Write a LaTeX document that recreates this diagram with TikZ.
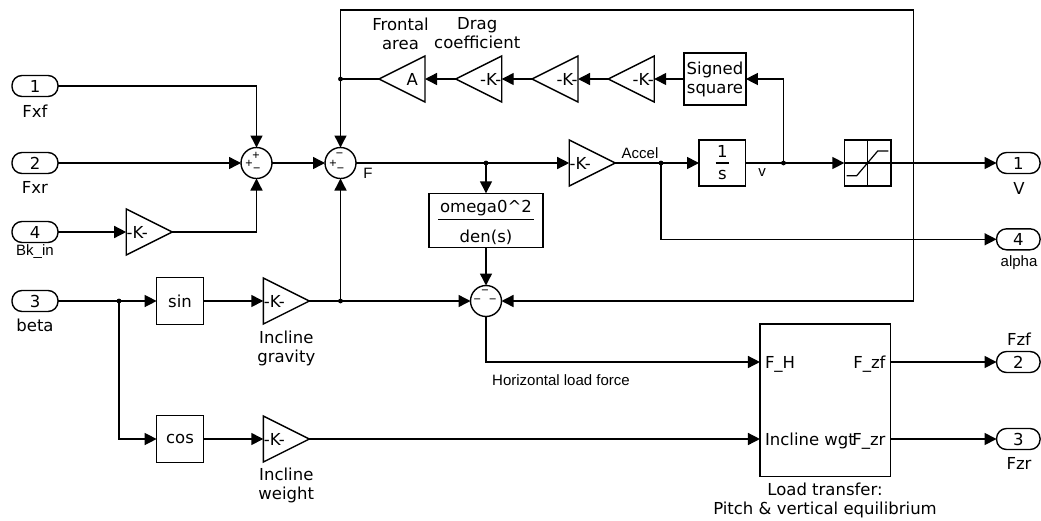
\documentclass[tikz,border=0pt]{standalone}
\usepackage{fontspec}
\setmainfont{DejaVu Sans}
\newfontfamily\smallsans{Liberation Sans}
\usetikzlibrary{arrows.meta,calc}
\begin{document}
\begin{tikzpicture}[x=1pt,y=-1pt,
  line width=1.4pt,
  every node/.style={inner sep=0pt, outer sep=0pt},
  txt/.style={font=\fontsize{16.5}{19}\selectfont, align=center},
  sml/.style={font=\smallsans\fontsize{15}{17}\selectfont},
  blk/.style={draw, rectangle, line width=1.4pt, font=\fontsize{16.5}{19}\selectfont, align=center},
  port/.style={draw, rectangle, rounded corners=10pt, minimum width=46pt, minimum height=21pt, font=\fontsize{16.5}{19}\selectfont},
  oport/.style={port, minimum width=43.5pt},
  sumc/.style={draw, circle, minimum size=31pt},
  gainbox/.style={rectangle, minimum width=46pt, minimum height=46pt},
  sgn/.style={font=\smallsans\fontsize{12.5}{12.5}\selectfont},
  portlbl/.style={txt, text height=12pt, text depth=0pt},
  icon/.style={line width=1.2pt},
  arr/.style={-{Triangle[length=12pt,width=12pt]}},
]
\fill[white] (0,0) rectangle (1041,520);
\useasboundingbox (0,0) rectangle (1041,520);

% ports
\node[port] (p1) at (35,86) {1};
\node[port] (p2) at (35,163) {2};
\node[port] (pBk) at (35,232) {4};
\node[port] (p3) at (35,301) {3};
\node[txt] at (35,111) {Fxf};
\node[txt] at (35,187) {Fxr};
\node[sml] at (35,252) {Bk\_in};
\node[txt] at (35,325) {beta};

\node[oport] (po1) at (1018.3,163) {1};
\node[oport] (po4) at (1018.3,239.3) {4};
\node[oport] (po2) at (1018.3,362) {2};
\node[oport] (po3) at (1018.3,439) {3};
\node[txt] at (1019,188) {V};
\node[sml] at (1019,263) {alpha};
\node[txt] at (1019,339) {Fzf};
\node[txt] at (1019,463) {Fzr};

% sums
\node[sumc] (s1) at (256.5,163) {};
\node[sumc] (s2) at (340.5,163) {};
\node[sumc] (s3) at (486,301) {};
\node[sgn] at ($(s1.center)+(-0.5,-7)$) {+};
\node[sgn] at ($(s1.center)+(-7.5,0.5)$) {+};
\node[sgn] at ($(s1.center)+(0.2,7.3)$) {−};
\node[sgn] at ($(s2.center)+(-1,-7.5)$) {−};
\node[sgn] at ($(s2.center)+(-7.5,0.5)$) {+};
\node[sgn] at ($(s2.center)+(0,7.3)$) {−};
\node[sgn] at ($(s3.center)+(-1,-8.5)$) {−};
\node[sgn] at ($(s3.center)+(-8.8,0)$) {−};
\node[sgn] at ($(s3.center)+(6.8,0)$) {−};

% blocks
\node[blk, minimum width=46.7pt, minimum height=46.7pt] (sin) at (180,301) {sin};
\node[blk, minimum width=46.7pt, minimum height=46.7pt] (cos) at (180,439) {cos};
\node[blk, minimum width=61.7pt, minimum height=52.3pt] (sq) at (715,79) {Signed\\square};
\node[blk, minimum width=46.7pt, minimum height=46pt] (integ) at (722.4,163) {};
\node[blk, minimum width=46.7pt, minimum height=46pt] (sat) at (867.7,163) {};
\node[blk, minimum width=113.7pt, minimum height=54.4pt] (omega) at (486,220.5) {};
\node[blk, minimum width=130.7pt, minimum height=152.7pt] (lt) at (825.3,400.3) {};

% integrator icon
\node[txt, anchor=base] at ($(integ.center)+(0,-5.7)$) {1};
\draw[icon] ($(integ.center)+(-6.7,0)$) -- ++(13.4,0);
\node[txt, anchor=base] at ($(integ.center)+(0,16.3)$) {s};

% saturation icon
\draw[icon] (sat.north) -- (sat.south);
\draw[icon] (sat.west) -- (sat.east);
\draw[icon] ($(sat.center)+(-21,12.7)$) -- ++(10,0) -- ($(sat.center)+(10,-12)$) -- ++(10.6,0);

% transfer function
\node[txt, anchor=base] at ($(omega.center)+(0,-7.8)$) {omega0\textasciicircum{}2};
\draw[icon] ($(omega.center)+(-48,-0.8)$) -- ++(96,0);
\node[txt, anchor=base] at ($(omega.center)+(0,21.8)$) {den(s)};

% load transfer
\node[portlbl, anchor=west] (ltFH) at (765,362) {F\_H};
\node[portlbl, anchor=west] (ltW) at (765,439) {Incline wgt};
\node[portlbl, anchor=east] (ltZf) at (885.5,362) {F\_zf};
\node[portlbl, anchor=east] (ltZr) at (885.5,439) {F\_zr};
\node[txt] at (825,500.5) {Load transfer:\\Pitch \& vertical equilibrium};

% gains
\node[gainbox] (gBk) at (149.2,232) {};
\node[gainbox] (gG) at (286.3,301) {};
\node[gainbox] (gW) at (286.3,439) {};
\node[gainbox] (gM) at (592.2,163) {};
\node[gainbox] (gA) at (402,79) {};
\node[gainbox] (gK1) at (478.7,79) {};
\node[gainbox] (gK2) at (555,79) {};
\node[gainbox] (gK3) at (631.2,79) {};
\foreach \g in {gBk,gG,gW,gM}
  \draw (\g.north west) -- (\g.east) -- (\g.south west) -- cycle;
\foreach \g in {gA,gK1,gK2,gK3}
  \draw (\g.north east) -- (\g.west) -- (\g.south east) -- cycle;
\foreach \g in {gBk,gG,gW,gM}
  \node[txt, anchor=west] at ($(\g.west)+(0.5,0)$) {-K-};
\foreach \g in {gK1,gK2,gK3}
  \node[txt, anchor=east] at ($(\g.east)+(-0.5,0)$) {-K-};
\node[txt, anchor=east] at ($(gA.east)+(-7,0)$) {A};

% labels
\node[txt] at (400.5,33.5) {Frontal\\area};
\node[txt] at (477.2,33.5) {Drag\\coefficient};
\node[txt] at (286.3,348) {Incline\\gravity};
\node[txt] at (286.3,485.5) {Incline\\weight};
\node[sml] at (368,173) {F};
\node[sml] at (640,153.3) {Accel};
\node[sml] at (762,173) {v};
\node[sml] at (561,380) {Horizontal load force};

% junctions
\coordinate (jD) at (s2.north |- gA.west);
\coordinate (jF) at (s3.north |- s2.east);
\coordinate (jA) at (661,163);
\coordinate (jV) at (783.5,163);
\coordinate (jB) at (119,301);
\coordinate (jG) at (s2.south |- s3.west);
\coordinate (cTR) at (913.3,10);

% connectors
\draw[arr] (p1.east) -| (s1.north);
\draw[arr] (p2.east) -- (s1.west);
\draw[arr] (pBk.east) -- (gBk.west);
\draw[arr] (gBk.east) -| (s1.south);
\draw[arr] (s1.east) -- (s2.west);
\draw[arr] (gA.west) -| (s2.north);
\draw[arr] (jD) |- (cTR) |- (s3.east);
\draw[arr] (s2.east) -- (gM.west);
\draw[arr] (jF) -- (omega.north);
\draw[arr] (omega.south) -- (s3.north);
\draw[arr] (gM.east) -- (integ.west);
\draw[arr] (jA) |- (po4.west);
\draw[arr] (integ.east) -- (sat.west);
\draw[arr] (jV) |- (sq.east);
\draw[arr] (sat.east) -- (po1.west);
\draw[arr] (sq.west) -- (gK3.east);
\draw[arr] (gK3.west) -- (gK2.east);
\draw[arr] (gK2.west) -- (gK1.east);
\draw[arr] (gK1.west) -- (gA.east);
\draw[arr] (p3.east) -- (sin.west);
\draw[arr] (jB) |- (cos.west);
\draw[arr] (sin.east) -- (gG.west);
\draw[arr] (gG.east) -- (s3.west);
\draw[arr] (jG) -- (s2.south);
\draw[arr] (cos.east) -- (gW.west);
\draw[arr] (gW.east) -- (lt.west |- ltW);
\draw[arr] (s3.south) |- (lt.west |- ltFH);
\draw[arr] (lt.east |- ltZf) -- (po2.west);
\draw[arr] (lt.east |- ltZr) -- (po3.west);

\foreach \c in {jD,jF,jA,jV,jB,jG}
  \fill (\c) circle (2.4pt);
\end{tikzpicture}
\end{document}
